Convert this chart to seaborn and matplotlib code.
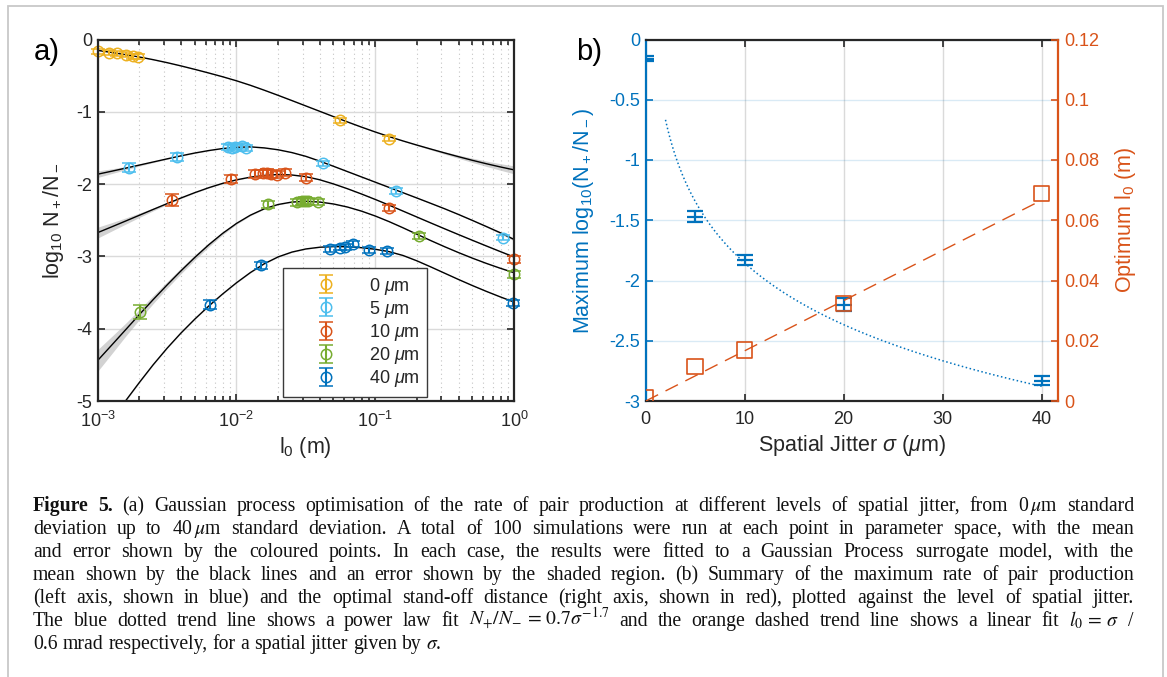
import re
import numpy as np
import matplotlib
matplotlib.use("Agg")
import matplotlib.pyplot as plt
from matplotlib.patches import Rectangle
from matplotlib.ticker import LogLocator, NullFormatter, NullLocator, FixedLocator
import seaborn as sns

# ------------------------------------------------------------------ data
JITTER_LABELS = ["0 $\\mu$m", "5 $\\mu$m", "10 $\\mu$m", "20 $\\mu$m", "40 $\\mu$m"]

# simulated rate of pair production: stand-off distance l0 (m), mean log10(N+/N-), error
L0_0UM = [0.001, 0.0012, 0.00138, 0.0016, 0.0018, 0.00195, 0.0557, 0.126]
LOG_0UM = [-0.16, -0.18, -0.19, -0.21, -0.23, -0.24, -1.12, -1.37]
ERR_0UM = [0.035, 0.035, 0.035, 0.035, 0.035, 0.035, 0.04, 0.04]

L0_5UM = [0.00169, 0.00371, 0.0087, 0.0093, 0.0098, 0.0109, 0.0118, 0.0418, 0.141, 0.828]
LOG_5UM = [-1.775, -1.625, -1.49, -1.50, -1.48, -1.47, -1.50, -1.715, -2.098, -2.74]
ERR_5UM = [0.06, 0.05, 0.04, 0.04, 0.04, 0.04, 0.04, 0.035, 0.04, 0.04]

L0_10UM = [0.00345, 0.0091, 0.0136, 0.0155, 0.0165, 0.0178, 0.0195, 0.0223, 0.0317, 0.126, 1.0]
LOG_10UM = [-2.22, -1.93, -1.86, -1.85, -1.84, -1.86, -1.87, -1.84, -1.91, -2.33, -3.04]
ERR_10UM = [0.085, 0.06, 0.05, 0.05, 0.05, 0.05, 0.05, 0.05, 0.045, 0.04, 0.05]

L0_20UM = [0.00202, 0.0168, 0.0272, 0.0295, 0.0312, 0.0329, 0.0388, 0.206, 1.0]
LOG_20UM = [-3.77, -2.28, -2.25, -2.24, -2.23, -2.24, -2.25, -2.717, -3.25]
ERR_20UM = [0.095, 0.05, 0.05, 0.05, 0.05, 0.05, 0.045, 0.04, 0.045]

L0_40UM = [0.00644, 0.01493, 0.0472, 0.0557, 0.0605, 0.0695, 0.0906, 0.122, 0.99]
LOG_40UM = [-3.668, -3.123, -2.893, -2.878, -2.870, -2.832, -2.916, -2.925, -3.64]
ERR_40UM = [0.06, 0.05, 0.04, 0.04, 0.04, 0.04, 0.04, 0.04, 0.04]

# Gaussian-process surrogate sampled every 0.1 decade in l0 from 1 mm to 1 m:
# mean log10(N+/N-) and half-width of the shaded confidence band
FIT_L0 = np.logspace(-3, 0, 31)
FIT_MEAN_0UM = [-0.150, -0.179, -0.209, -0.242, -0.279, -0.320, -0.365, -0.413, -0.463, -0.515,
                -0.571, -0.633, -0.701, -0.772, -0.845, -0.919, -0.993, -1.067, -1.140, -1.211,
                -1.279, -1.343, -1.403, -1.460, -1.515, -1.569, -1.621, -1.671, -1.718, -1.762,
                -1.803]
FIT_BAND_0UM = [0.005] * 23 + [0.008, 0.012, 0.017, 0.023, 0.030, 0.037, 0.045, 0.055]

FIT_MEAN_5UM = [-1.863, -1.822, -1.780, -1.737, -1.694, -1.651, -1.609, -1.570, -1.536, -1.508,
                -1.491, -1.485, -1.499, -1.525, -1.564, -1.616, -1.682, -1.754, -1.827, -1.900,
                -1.973, -2.046, -2.119, -2.192, -2.266, -2.341, -2.420, -2.502, -2.586, -2.672,
                -2.765]
FIT_BAND_5UM = [0.045, 0.033, 0.022, 0.014, 0.009, 0.006] + [0.005] * 21 + [0.007, 0.010, 0.014, 0.020]

FIT_MEAN_10UM = [-2.671, -2.592, -2.512, -2.431, -2.350, -2.270, -2.192, -2.118, -2.050, -1.990,
                 -1.941, -1.904, -1.880, -1.867, -1.874, -1.897, -1.940, -1.998, -2.064, -2.136,
                 -2.212, -2.291, -2.373, -2.455, -2.537, -2.618, -2.698, -2.777, -2.855, -2.932,
                 -3.008]
FIT_BAND_10UM = [0.075, 0.058, 0.043, 0.030, 0.020, 0.013, 0.008, 0.006] + [0.005] * 20 + [0.006, 0.008, 0.010]

FIT_MEAN_20UM = [-4.439, -4.229, -4.017, -3.805, -3.597, -3.395, -3.200, -3.014, -2.840, -2.682,
                 -2.544, -2.430, -2.342, -2.282, -2.248, -2.238, -2.248, -2.275, -2.317, -2.373,
                 -2.441, -2.519, -2.604, -2.693, -2.781, -2.866, -2.947, -3.024, -3.096, -3.163,
                 -3.225]
FIT_BAND_20UM = [0.15, 0.12, 0.09, 0.07, 0.055, 0.045, 0.04, 0.035, 0.03, 0.02, 0.012, 0.008] + [0.005] * 17 + [0.006, 0.008]

FIT_MEAN_40UM = [-5.540, -5.265, -5.000, -4.744, -4.498, -4.270, -4.060, -3.867, -3.687, -3.520,
                 -3.365, -3.224, -3.102, -3.007, -2.940, -2.897, -2.873, -2.864, -2.866, -2.879,
                 -2.901, -2.934, -2.987, -3.061, -3.145, -3.232, -3.319, -3.403, -3.483, -3.559,
                 -3.631]
FIT_BAND_40UM = [0.012, 0.010, 0.008, 0.006] + [0.005] * 27

# summary against spatial jitter sigma (um)
SIGMA_UM = [0, 5, 10, 20, 40]
MAX_LOG_RATE = [-0.16, -1.47, -1.83, -2.20, -2.83]
MAX_LOG_ERR = [0.02, 0.045, 0.044, 0.055, 0.04]
OPTIMUM_L0_M = [0.001, 0.0114, 0.0169, 0.0324, 0.0689]

# trend lines quoted in the caption
POWER_FIT_COEF = 0.7      # N+/N- = 0.7 sigma^-1.7
POWER_FIT_EXP = -1.7
LINEAR_FIT_MRAD = 0.6     # l0 = sigma / 0.6 mrad

A_YTICKS = [-5, -4, -3, -2, -1, 0]
A_YTICKLABELS = ["-5", "-4", "-3", "-2", "-1", "0"]
B_XTICKS = [0, 10, 20, 30, 40]
B_YTICKS = [0, -0.5, -1, -1.5, -2, -2.5, -3]
B_YTICKLABELS = ["0", "-0.5", "-1", "-1.5", "-2", "-2.5", "-3"]
B_RTICKS = [0, 0.02, 0.04, 0.06, 0.08, 0.1, 0.12]
B_RTICKLABELS = ["0", "0.02", "0.04", "0.06", "0.08", "0.1", "0.12"]

CAPTION_LINES = [
    "Figure 5. (a) Gaussian process optimisation of the rate of pair production at different levels of spatial jitter, from 0$\\,\\mu$m standard",
    "deviation up to 40$\\,\\mu$m standard deviation. A total of 100 simulations were run at each point in parameter space, with the mean",
    "and error shown by the coloured points. In each case, the results were fitted to a Gaussian Process surrogate model, with the",
    "mean shown by the black lines and an error shown by the shaded region. (b) Summary of the maximum rate of pair production",
    "(left axis, shown in blue) and the optimal stand-off distance (right axis, shown in red), plotted against the level of spatial jitter.",
    "The blue dotted trend line shows a power law fit $N_{+}/N_{-}\\,=\\,0.7\\sigma^{-1.7}$ and the orange dashed trend line shows a linear fit $l_0\\,=\\,\\sigma$ /",
    "0.6 mrad respectively, for a spatial jitter given by $\\sigma$.",
]

# ------------------------------------------------------------------ style
YELLOW, CYAN, RED, GREEN, BLUE = "#EDB120", "#4DBEEE", "#D95319", "#77AC30", "#0072BD"
JITTER_COLORS = [YELLOW, CYAN, RED, GREEN, BLUE]
INK = "#262626"
W, H = 1167, 677

sns.set_theme(style="ticks")
plt.rcParams.update({
    "font.family": ["Liberation Sans", "DejaVu Sans"],
    "mathtext.fontset": "custom",
    "mathtext.rm": "Liberation Sans",
    "mathtext.it": "Liberation Sans:italic",
    "mathtext.bf": "Liberation Sans:bold",
    "axes.unicode_minus": False,
    "text.color": INK,
    "axes.labelcolor": INK,
    "xtick.color": INK,
    "ytick.color": INK,
})

fig = plt.figure(figsize=(W / 100, H / 100), dpi=100)
fig.patch.set_facecolor("white")

# outer frame of the figure box
fig.add_artist(Rectangle((7.5 / W, -0.05), (1162.5 - 7.5) / W, 1.05 - 6.5 / H,
                         transform=fig.transFigure, fill=False, edgecolor="#c8c8c8", lw=1.3))

TICK_FS = 13
LABEL_FS = 15.5

# ------------------------------------------------------------------ panel a
ax = fig.add_axes([97.7 / W, (H - 401) / H, 416.3 / W, 361.5 / H])
ax.set_xscale("log")
ax.set_xlim(1e-3, 1)
ax.set_ylim(-5, 0)
ax.set_axisbelow(True)

fits = [
    (FIT_MEAN_0UM, FIT_BAND_0UM),
    (FIT_MEAN_5UM, FIT_BAND_5UM),
    (FIT_MEAN_10UM, FIT_BAND_10UM),
    (FIT_MEAN_20UM, FIT_BAND_20UM),
    (FIT_MEAN_40UM, FIT_BAND_40UM),
]
for fy, fb in fits:
    fy, fb = np.asarray(fy), np.asarray(fb)
    ax.fill_between(FIT_L0, fy - fb, fy + fb, color="#b4b4b4", alpha=0.6, lw=0, zorder=2)
    sns.lineplot(x=FIT_L0, y=fy, ax=ax, color="black", lw=1.0, estimator=None, sort=False,
                 zorder=3, legend=False)

points = [
    (L0_0UM, LOG_0UM, ERR_0UM),
    (L0_5UM, LOG_5UM, ERR_5UM),
    (L0_10UM, LOG_10UM, ERR_10UM),
    (L0_20UM, LOG_20UM, ERR_20UM),
    (L0_40UM, LOG_40UM, ERR_40UM),
]
handles = []
for (px, py, pe), col in zip(points, JITTER_COLORS):
    h = ax.errorbar(px, py, yerr=pe, fmt="o", mfc="none", mec=col, ecolor=col, ms=7.5,
                    mew=1.1, elinewidth=1.5, capsize=5, capthick=1.5, zorder=4)
    for art in h.lines[0:1] + tuple(h.lines[1]) + tuple(h.lines[2]):
        art.set_clip_on(False)
    handles.append(h)

ax.xaxis.set_major_locator(LogLocator(base=10, numticks=10))
ax.xaxis.set_minor_locator(LogLocator(base=10, subs=np.arange(2, 10), numticks=20))
ax.xaxis.set_minor_formatter(NullFormatter())
ax.yaxis.set_major_locator(FixedLocator(A_YTICKS))
ax.set_yticklabels(A_YTICKLABELS)
ax.yaxis.set_minor_locator(NullLocator())
ax.tick_params(which="both", direction="in", top=True, right=True, width=1.2, labelsize=TICK_FS)
ax.tick_params(which="major", length=5)
ax.tick_params(which="minor", length=3.5)
ax.tick_params(axis="x", pad=7)
ax.tick_params(axis="y", pad=4)
ax.grid(which="major", color="#dadada", lw=1.0, ls="-")
ax.grid(which="minor", axis="x", color="#c4c4c4", lw=0.8, ls=(0, (1, 3)))
for s in ax.spines.values():
    s.set_color(INK)
    s.set_linewidth(1.6)
    s.set_zorder(5)

ax.set_xlabel("l$_0$ (m)", fontsize=LABEL_FS, va="center")
ax.xaxis.set_label_coords(0.5, (401 - 447) / 361.5)
ax.set_ylabel("log$_{10}$ N$_+$/N$_-$", fontsize=LABEL_FS, va="center")
ax.yaxis.set_label_coords((54 - 97.7) / 416.3, 0.5)

leg = ax.legend(handles, JITTER_LABELS, loc="upper left",
                bbox_to_anchor=((283 - 97.7) / 416.3, (401 - 268) / 361.5),
                borderaxespad=0, frameon=True, fancybox=False, framealpha=1,
                edgecolor="#3a3a3a", fontsize=13, handlelength=3.9, handletextpad=0.45,
                borderpad=0.42, labelspacing=0.12)
leg.get_frame().set_linewidth(1.0)
leg.set_zorder(6)

fig.text(34 / W, 1 - 52 / H, "a)", fontsize=21, ha="left", va="center", color="black")

# ------------------------------------------------------------------ panel b
axb = fig.add_axes([645.7 / W, (H - 401) / H, 411.8 / W, 361.5 / H])
axb.set_xlim(0, 41.6)
axb.set_ylim(-3, 0)
axb.set_axisbelow(True)

sig_fine = np.linspace(2, 40, 200)
trend_log = np.log10(POWER_FIT_COEF) + POWER_FIT_EXP * np.log10(sig_fine)
sns.lineplot(x=sig_fine, y=trend_log, ax=axb, color=BLUE, lw=1.1, ls=":",
             estimator=None, sort=False, legend=False, zorder=3)
axb.errorbar(SIGMA_UM, MAX_LOG_RATE, yerr=MAX_LOG_ERR, fmt="_", color=BLUE, ms=11, mew=1.6,
             elinewidth=1.6, capsize=5.5, capthick=1.6, zorder=4)

axb.xaxis.set_major_locator(FixedLocator(B_XTICKS))
axb.yaxis.set_major_locator(FixedLocator(B_YTICKS))
axb.set_yticklabels(B_YTICKLABELS)
axb.grid(axis="x", color="#dadada", lw=1.0)
axb.grid(axis="y", color=BLUE, alpha=0.15, lw=1.0)

axr = axb.twinx()
axr.set_ylim(0, 0.12)
sig_line = np.array([0, 40])
sns.lineplot(x=sig_line, y=sig_line * 1e-6 / (LINEAR_FIT_MRAD * 1e-3), ax=axr, color=RED,
             lw=1.0, ls=(0, (10, 6)), estimator=None, sort=False, legend=False, zorder=3)
sns.scatterplot(x=SIGMA_UM, y=OPTIMUM_L0_M, ax=axr, marker="s", s=125, facecolor="none",
                edgecolor=RED, linewidth=1.2, zorder=4, legend=False)
axr.yaxis.set_major_locator(FixedLocator(B_RTICKS))
axr.set_yticklabels(B_RTICKLABELS)

axb.tick_params(axis="x", which="both", direction="in", top=True, bottom=True, length=5,
                width=1.2, labelsize=TICK_FS, pad=7, colors=INK)
axb.tick_params(axis="y", direction="in", left=True, right=False, length=5, width=1.2,
                labelsize=TICK_FS, pad=4, colors=BLUE)
axr.tick_params(axis="y", direction="in", right=True, left=False, length=5, width=1.2,
                labelsize=TICK_FS, pad=5, colors=RED)
for name in ("top", "bottom"):
    axb.spines[name].set_color(INK)
    axb.spines[name].set_linewidth(1.6)
    axr.spines[name].set_visible(False)
axb.spines["left"].set_color(BLUE)
axb.spines["left"].set_linewidth(1.6)
axb.spines["right"].set_visible(False)
axr.spines["left"].set_visible(False)
axr.spines["right"].set_color(RED)
axr.spines["right"].set_linewidth(1.6)

axb.set_xlabel("Spatial Jitter $\\sigma$ ($\\mu$m)", fontsize=LABEL_FS, va="center")
axb.xaxis.set_label_coords(0.5, (401 - 445) / 361.5)
axb.set_ylabel("Maximum log$_{10}$(N$_+$/N$_-$)", fontsize=LABEL_FS, color=BLUE, va="center")
axb.yaxis.set_label_coords((583 - 645.7) / 411.8, 0.5)
axr.set_ylabel("Optimum l$_0$ (m)", fontsize=LABEL_FS, color=RED, va="center", rotation=90)
axr.yaxis.set_label_coords((1125 - 645.7) / 411.8, 0.5)

fig.text(576 / W, 1 - 52 / H, "b)", fontsize=21, ha="left", va="center", color="black")

# ------------------------------------------------------------------ caption (justified lines)
CAP_FONT = ["Liberation Serif", "DejaVu Serif"]
CAP_SIZE = 14.2
CAP_LEFT, CAP_RIGHT = 33.0, 1134.0
CAP_BASE0, CAP_STEP = 511.0, 23.0
TOKEN_RE = re.compile(r"(?:[^\s$]*\$[^$]*\$)+[^\s$]*|\S+")

renderer = fig.canvas.get_renderer()
for i, line in enumerate(CAPTION_LINES):
    tokens = TOKEN_RE.findall(line)
    texts = []
    for j, tok in enumerate(tokens):
        bold = i == 0 and j < 2
        t = fig.text(0, 0, tok, fontsize=CAP_SIZE, family=CAP_FONT,
                     weight="bold" if bold else "normal", math_fontfamily="stix",
                     color="#111111", ha="left", va="baseline")
        texts.append(t)
    widths = [t.get_window_extent(renderer).width for t in texts]
    natural = 0.25 * CAP_SIZE * 100 / 72
    if i < len(CAPTION_LINES) - 1:
        gap = max((CAP_RIGHT - CAP_LEFT - sum(widths)) / (len(tokens) - 1), 0.5 * natural)
    else:
        gap = natural
    x = CAP_LEFT
    y = 1 - (CAP_BASE0 + i * CAP_STEP) / H
    for t, w in zip(texts, widths):
        t.set_position((x / W, y))
        x += w + gap

fig.savefig("out.png", dpi=100, facecolor="white")
